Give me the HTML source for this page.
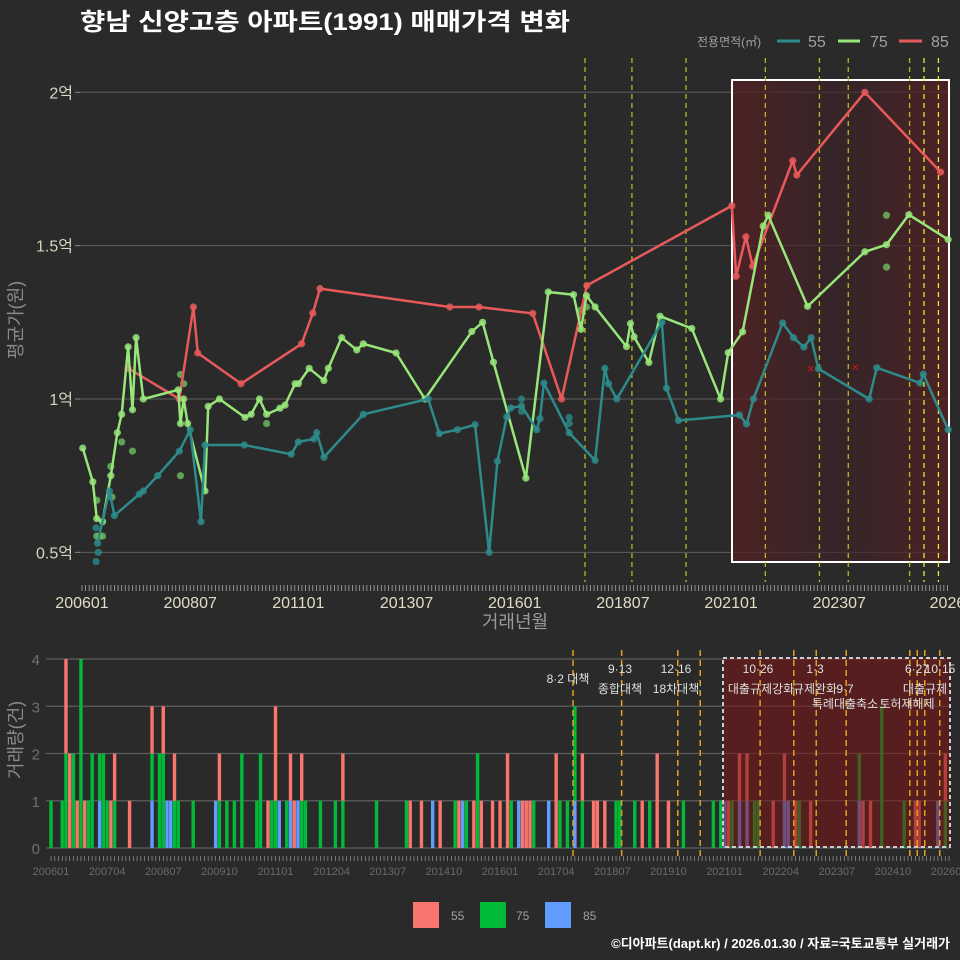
<!DOCTYPE html>
<html><head><meta charset="utf-8">
<style>
body{margin:0;background:#2a2a2b;}
svg{display:block;font-family:"Liberation Sans","Noto Sans CJK KR",sans-serif;}
</style></head>
<body>
<svg id="c" width="960" height="960" viewBox="0 0 960 960">
<rect x="0" y="0" width="960" height="960" fill="#2a2a2b"/>
<text x="80" y="30" fill="#ffffff" font-size="24" font-weight="bold" textLength="490" lengthAdjust="spacingAndGlyphs">향남 신양고층 아파트(1991) 매매가격 변화</text>
<g>
<text x="697" y="46" fill="#a0a0a0" font-size="12">전용면적(㎡)</text>
<line x1="777" y1="41" x2="800" y2="41" stroke="#2e8b8b" stroke-width="3"/>
<text x="808" y="47" fill="#a0a0a0" font-size="16">55</text>
<line x1="838" y1="41" x2="860" y2="41" stroke="#98e67a" stroke-width="3"/>
<text x="870" y="47" fill="#a0a0a0" font-size="16">75</text>
<line x1="899" y1="41" x2="922" y2="41" stroke="#e85a5a" stroke-width="3"/>
<text x="931" y="47" fill="#a0a0a0" font-size="16">85</text>
</g>
<defs>
<linearGradient id="hl" x1="0" x2="1" y1="0" y2="0">
<stop offset="0" stop-color="#5a1e22" stop-opacity="0.75"/>
<stop offset="0.5" stop-color="#3a2226" stop-opacity="0.6"/>
<stop offset="1" stop-color="#5a1e22" stop-opacity="0.75"/>
</linearGradient>
</defs>
<g id="topg"></g>
<g id="botg"></g>
<text x="515" y="628" fill="#9a9a9a" font-size="18" text-anchor="middle">거래년월</text>
<text transform="translate(22,320) rotate(-90)" fill="#8a8a8a" font-size="18" text-anchor="middle">평균가(원)</text>
<text transform="translate(22,740) rotate(-90)" fill="#8a8a8a" font-size="18" text-anchor="middle">거래량(건)</text>
<g>
<rect x="413" y="902" width="26" height="26" fill="#f8766d"/>
<text x="451" y="920" fill="#a0a0a0" font-size="12">55</text>
<rect x="480" y="902" width="26" height="26" fill="#00ba38"/>
<text x="516" y="920" fill="#a0a0a0" font-size="12">75</text>
<rect x="545" y="902" width="26" height="26" fill="#619cff"/>
<text x="583" y="920" fill="#a0a0a0" font-size="12">85</text>
</g>
<text x="950" y="948" fill="#ffffff" font-size="13" font-weight="bold" text-anchor="end">©디아파트(dapt.kr) / 2026.01.30 / 자료=국토교통부 실거래가</text>
</svg>
<script>
// ---- top chart data (month index from 2006-01, price in 억) ----
const m55 = [4.3,7.6,9,15.9,17,21,27,30,33,34.1,45,58,60,64.3,65.1,67.1,78,96,99.1,104.1,109,112.9,115.2,117.8,118.9,121.9,126.1,127,128.1,135.1,142.3,145,146,148.3,160.8,162.1,165.4,182.3,184.3,186.2,194.3,197.3,200.2,202.2,204.2,218.3,220.4,232.4,233.3,240.2];
const v55 = [0.53,0.70,0.62,0.69,0.70,0.75,0.83,0.90,0.60,0.85,0.85,0.82,0.86,0.87,0.89,0.81,0.95,1.0,0.887,0.90,0.916,0.50,0.797,0.942,0.971,0.977,0.90,0.936,1.052,0.89,0.80,1.10,1.05,1.0,1.25,1.035,0.93,0.948,0.919,1.0,1.248,1.2,1.169,1.2,1.099,1.0,1.102,1.052,1.081,0.90];
const m75 = [0.2,3.0,4.1,5.7,8.0,9.8,11,12.8,14,15,17,26.7,27.3,28.2,29.3,34.1,35,38.1,45.2,46.9,49.2,51.2,54.9,56.3,59.1,60,63,67.1,68.3,72,76.2,78,87.1,95.1,108.1,111.1,114.1,123.1,129.3,136.3,138.4,139.9,142.3,151,152.1,153.1,157.2,160.3,169.1,177.1,179.2,183.2,188.9,190.3,201.2,217.1,223.1,229.3,240.2];
const v75 = [0.84,0.73,0.61,0.60,0.75,0.89,0.95,1.17,0.965,1.20,1.0,1.03,0.92,1.0,0.92,0.70,0.976,1.0,0.94,0.95,1.0,0.95,0.97,0.98,1.05,1.05,1.10,1.06,1.10,1.20,1.16,1.18,1.15,1.0,1.22,1.25,1.12,0.742,1.349,1.34,1.227,1.337,1.30,1.171,1.246,1.203,1.119,1.27,1.23,1.0,1.151,1.219,1.564,1.599,1.302,1.48,1.503,1.601,1.52];
const m85 = [12.8,27,30.9,32.1,44.1,60.9,64,66,102,110.1,125,133,140,180.2,181.4,184.1,186,197.1,198.2,217.1,238.1];
const v85 = [1.10,1.0,1.30,1.15,1.05,1.18,1.28,1.36,1.30,1.30,1.279,1.0,1.37,1.63,1.40,1.529,1.433,1.777,1.73,2.0,1.74];
const sm55 = [3.9,3.9,4.5,121.9,121.9,135.1,135.1];
const sv55 = [0.47,0.58,0.50,1.0,0.96,0.94,0.92];
const sm75 = [4.1,4.1,5.7,4.9,8,8.3,11,14,27.3,28.2,27.3,51.2,223.1,223.1,138.4,139.9];
const sv75 = [0.67,0.553,0.553,0.553,0.78,0.68,0.86,0.83,1.08,1.05,0.75,0.92,1.599,1.43,1.29,1.30];
const xm = [202.1,214.4];
const xv = [1.098,1.102];
const yTicks = [0.5,1,1.5,2];
const yTickLabels = ["0.5억","1억","1.5억","2억"];
const xTickMonths = [0,30,60,90,120,150,180,210,240];
const xTickLabels = ["200601","200807","201101","201307","201601","201807","202101","202307","2026"];
const policyTop = [139.5,152.5,167.5,189.5,204.5,212.5,229.5,233.5,237.5];
// ---- bottom chart data ----
const barMonths = [0,3,4,5,6,7,8,9,10,11,13,14,15,16,17,21,27,29,30,31,32,33,34,38,44,45,47,49,51,55,56,58,59,60,61,63,64,65,66,67,68,72,76,78,87,95,96,99,102,104,108,109,110,111,113,114,115,118,120,122,123,125,126,127,128,129,133,135,136,138,140,142,145,146,148,151,152,156,158,160,162,165,169,177,179,180,181,182,184,186,188,189,193,196,197,199,200,203,216,217,219,222,228,231,232,237,239];
const cnt55 = [0,0,2,2,0,1,0,1,0,0,0,0,0,1,1,1,1,0,1,0,0,1,0,0,0,1,0,0,0,0,0,1,0,2,0,0,1,1,0,1,0,0,0,1,0,0,1,1,0,1,0,1,0,0,1,0,1,1,1,2,0,0,1,1,1,0,0,2,0,0,0,1,1,1,1,0,0,0,1,0,2,1,0,0,0,0,1,0,1,1,0,0,1,1,0,1,0,1,0,1,1,0,0,1,1,0,1];
const cnt75 = [1,1,2,0,2,0,4,0,1,2,1,2,1,0,1,0,1,2,2,0,0,1,1,1,0,1,1,1,2,1,2,0,1,1,0,1,0,0,0,1,1,1,1,1,1,1,0,0,0,0,1,0,0,1,0,2,0,0,0,0,1,0,0,0,0,1,0,0,1,1,2,1,0,0,0,1,1,1,0,1,0,0,1,1,1,0,0,1,0,0,1,1,0,0,0,0,1,0,1,0,0,3,1,0,0,0,1];
const cnt85 = [0,0,0,0,0,0,0,0,0,0,1,0,0,0,0,0,1,0,0,1,1,0,0,0,1,0,0,0,0,0,0,0,0,0,1,0,1,0,1,0,0,0,0,0,0,0,0,0,1,0,0,0,1,0,0,0,0,0,0,0,0,1,0,0,0,0,1,0,0,0,1,0,0,0,0,0,0,0,0,0,0,0,0,0,0,1,0,0,1,1,0,0,0,1,1,0,0,0,1,0,0,0,0,0,0,1,0];
const bTicks = [0,1,2,3,4];
const bXTickMonths = [0,15,30,45,60,75,90,105,120,135,150,165,180,195,210,225,240];
const bXTickLabels = ["200601","200704","200807","200910","201101","201204","201307","201410","201601","201704","201807","201910","202101","202204","202307","202410","202601"];
const policyBot = [139.5,152.5,167.5,173.5,189.5,198.5,204.5,212.5,229.5,231.5,233.5,237.5];

const NS = "http://www.w3.org/2000/svg";
function mk(parent, tag, attrs){const e=document.createElementNS(NS,tag);for(const k in attrs)e.setAttribute(k,attrs[k]);parent.appendChild(e);return e;}
const xT = m => 82 + m*3.606;
const yT = v => 399 - (v-1)*306.7;
const xB = m => 51 + m*3.742;
const yB = c => 848 - c*47.25;

const topG = document.getElementById('topg');
yTicks.forEach((t,i)=>{
  const l = mk(topG,'line',{x1:80,x2:950,y1:yT(t),y2:yT(t),stroke:'#5e5e5e','stroke-width':1});
  
  
  const tk = mk(topG,'line',{x1:75,x2:80,y1:yT(t),y2:yT(t),stroke:'#888'});
  
  
  const tx = mk(topG,'text',{x:73,y:yT(t)+6,fill:'#d8d4c0','font-size':16,'text-anchor':'end'});
  tx.textContent = yTickLabels[i];
  
  
});
const hr = mk(topG,'rect',{x:732,y:80,width:217,height:482,fill:'url(#hl)',stroke:'#ffffff','stroke-width':2});


policyTop.forEach((m,i)=>{
  const l = mk(topG,'line',{x1:xT(m),x2:xT(m),y1:58,y2:582,stroke:i>=7?'#e8e830':'#b8b820','stroke-width':1.3,'stroke-dasharray':'5,4'});
  
  
});
for(let m=0;m<=240;m++){
  const t = mk(topG,'line',{x1:xT(m),x2:xT(m),y1:585,y2:591,stroke:'#aaa','stroke-width':0.8});
  
  
}
xTickMonths.forEach((m,i)=>{
  const tx = mk(topG,'text',{x:xT(m),y:608,fill:'#e0dcc4','font-size':16,'text-anchor':'middle'});
  tx.textContent = xTickLabels[i];
  
  
});
function series(ms,vs,color,name){
  const pts = ms.map((m,i)=>xT(m)+','+yT(vs[i])).join(' ');
  const pl = mk(topG,'polyline',{points:pts,fill:'none',stroke:color,'stroke-width':2.5,'stroke-linejoin':'round'});
  
  
  ms.forEach((m,i)=>{
    const c = mk(topG,'circle',{cx:xT(m),cy:yT(vs[i]),r:3.6,fill:color,'fill-opacity':0.85});
    
    
  });
}
function scatter(ms,vs,color,name){
  ms.forEach((m,i)=>{
    const c = mk(topG,'circle',{cx:xT(m),cy:yT(vs[i]),r:3.6,fill:color,'fill-opacity':0.8});
    
    
  });
}
scatter(sm55,sv55,'#2a8a8a','55');
scatter(sm75,sv75,'#6cc060','75');
series(m85,v85,'#e85a5a','85');
series(m75,v75,'#98e67a','75');
series(m55,v55,'#2e8b8b','55');
xm.forEach((m,i)=>{
  const t = mk(topG,'text',{x:xT(m),y:yT(xv[i])+4,fill:'#e01010','font-size':13,'text-anchor':'middle'});
  t.textContent='×';
  
  
});

const botG = document.getElementById('botg');
bTicks.forEach(t=>{
  const l = mk(botG,'line',{x1:46,x2:950,y1:yB(t),y2:yB(t),stroke:'#5e5e5e','stroke-width':1.2});
  
  
  const tx = mk(botG,'text',{x:40,y:yB(t)+6,fill:'#707070','font-size':15,'text-anchor':'end'});
  tx.textContent = t;
  
  
});
barMonths.forEach((m,i)=>{
  const x = xB(m)-1.7;
  let base = 0;
  [[cnt85[i],'#619cff','85'],[cnt75[i],'#00ba38','75'],[cnt55[i],'#f8766d','55']].forEach(s=>{
    if(s[0]>0){
      const r = mk(botG,'rect',{x:x,y:yB(base+s[0]),width:3.4,height:s[0]*47.25,fill:s[1]});
      
      
      base += s[0];
    }
  });
});
const br = mk(botG,'rect',{x:723,y:658,width:227,height:189,fill:'#7a1414','fill-opacity':0.55,stroke:'#cccccc','stroke-width':2,'stroke-dasharray':'4,3'});


policyBot.forEach(m=>{
  const l = mk(botG,'line',{x1:xB(m),x2:xB(m),y1:650,y2:856,stroke:'#e0a020','stroke-width':1.5,'stroke-dasharray':'6,4'});
  
  
});
for(let m=0;m<=240;m++){
  const t = mk(botG,'line',{x1:xB(m),x2:xB(m),y1:856,y2:861,stroke:'#999','stroke-width':0.7});
  
  
}
bXTickMonths.forEach((m,i)=>{
  const tx = mk(botG,'text',{x:xB(m),y:875,fill:'#6a6a6a','font-size':11,'text-anchor':'middle'});
  tx.textContent = bXTickLabels[i];
  
  
});
const notes = [["8·2 대책",568,683],["9·13",620,673],["종합대책",620,693],["12·16",676,673],["18차대책",676,693],["10·26",758,673],["대출규제강화",761,693],["1·3",815,673],["규제완화",815,693],["9·7",845,693],["특례대출축소",845,708],["토허제해제",907,708],["6·27",917,673],["10·15",940,673],["대출규제",925,693]];
notes.forEach(n=>{
  const t = mk(botG,'text',{x:n[1],y:n[2],fill:'#e0e0e0','font-size':12,'text-anchor':'middle'});
  t.textContent = n[0];
  
  
});
</script>
</body></html>
